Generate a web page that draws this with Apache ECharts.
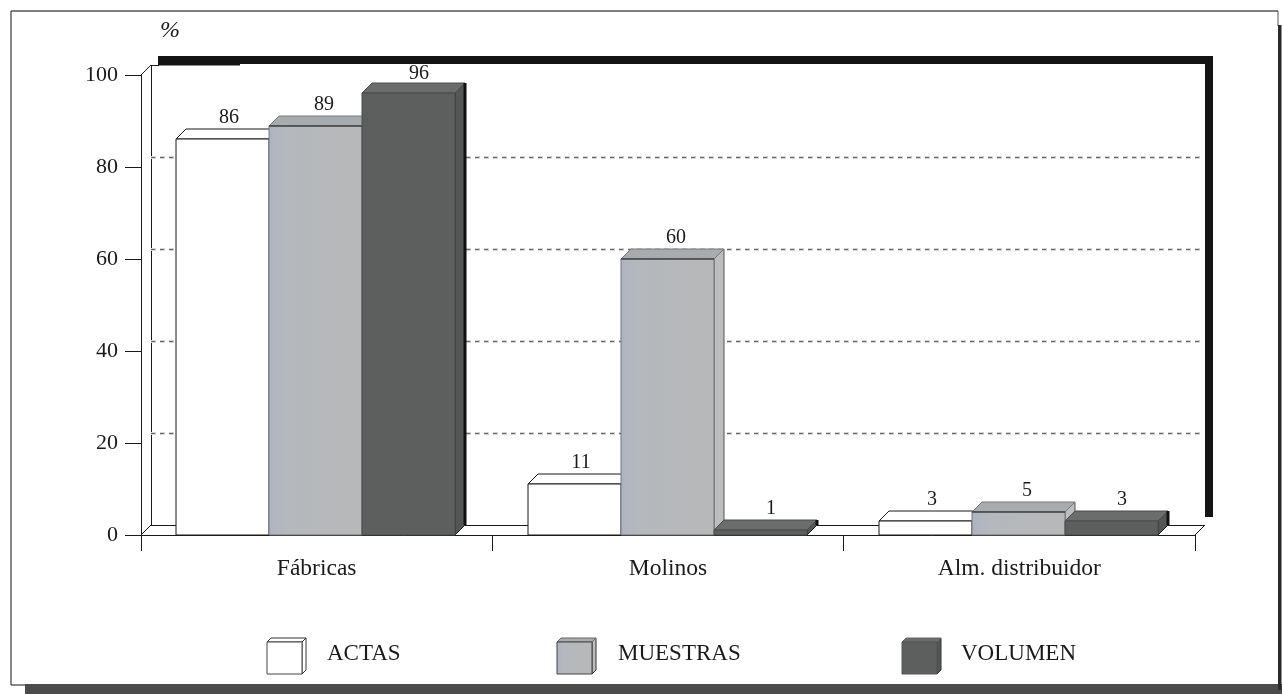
<!DOCTYPE html>
<html><head><meta charset="utf-8">
<style>html,body{margin:0;padding:0;background:#fff}#c{width:1282px;height:694px}</style>
<script src="https://cdn.jsdelivr.net/npm/echarts@6/dist/echarts.min.js"></script>
</head><body><div id="c"></div>
<script>
const categories = ['Fábricas', 'Molinos', 'Alm. distribuidor'];
const actas = [86, 11, 3];
const muestras = [89, 60, 5];
const volumen = [96, 1, 3];
const gridValues = [20, 40, 60, 80];
const seriesNames = ['ACTAS', 'MUESTRAS', 'VOLUMEN'];

const FONT = '"Liberation Serif", "Times New Roman", serif';
const DEPTH = 10;
const INK = '#1a1a1a';
const palette = [
  {face:'#ffffff', top:'#ffffff', side:'#ffffff', edge:INK, sideEdge:'#555', labelDx:53},
  {face:{type:'linear',x:0,y:0,x2:1,y2:0,colorStops:[{offset:0,color:'#aeb4c0'},{offset:.2,color:'#b5b8bc'},{offset:1,color:'#b7b8b9'}]},
   top:'#a9acae', side:'#bcbdbe', edge:'#777', sideEdge:'#555', labelDx:55},
  {face:'#5d5f5f', top:'#6a6d6c', side:'#545656', edge:'#4a4c4c', sideEdge:'#222', labelDx:57}
];

function bar3d(idx) {
  const c = palette[idx];
  return function (params, api) {
    const value = api.value(1);
    const p = api.coord([api.value(0), value]);
    const base = api.coord([api.value(0), 0]);
    const top100 = api.coord([api.value(0), 100]);
    const band = api.size([1, 0])[0];
    const w = Math.round(band * 0.265);
    const x0 = Math.round(p[0] + (idx - 1.5) * w - 1);
    const x1 = x0 + w;
    const yT = Math.round(p[1]), yB = Math.round(base[1]);
    const d = DEPTH;
    const poly = (pts, fill, stroke) => ({type:'polygon', shape:{points:pts}, style:{fill, stroke, lineWidth:1}});
    const children = [
      poly([[x1,yT],[x1+d,yT-d],[x1+d,yB-d],[x1,yB]], c.side, c.sideEdge),
      poly([[x0,yT],[x0+d,yT-d],[x1+d,yT-d],[x1,yT]], c.top, c.edge),
      poly([[x0,yT],[x1,yT],[x1,yB],[x0,yB]], c.face, c.edge)
    ];
    if (idx === 1) children.push({type:'line', shape:{x1:x0,y1:yT,x2:x1,y2:yT}, style:{stroke:'#222',lineWidth:1.2}});
    if (idx === 2) children.push({type:'line', shape:{x1:x1+d,y1:yT-d,x2:x1+d,y2:yB-d}, style:{stroke:'#111',lineWidth:3}});
    children.push({type:'text', x:x0+c.labelDx, y:Math.max(yT-d-11, top100[1]-1), z2:50,
      style:{text:String(value), fill:'#1a1a1a', font:'20px '+FONT, align:'center', verticalAlign:'middle'}});
    return {type:'group', children};
  };
}

function wall(params, api) {
  const d = DEPTH;
  const o = api.coord([0, 0]);
  const right = o[0] + api.size([1, 0])[0] * categories.length;
  const x0 = Math.round(o[0] - api.size([1, 0])[0] / 2);
  const x1 = Math.round(right - api.size([1, 0])[0] / 2);
  const y0 = Math.round(o[1]);
  const yTop = Math.round(api.coord([0, 100])[1]);
  const line = (a,b,c,e,stroke,lw,dash) => ({type:'line', shape:{x1:a,y1:b,x2:c,y2:e}, style:{stroke, lineWidth:lw, lineDash:dash}});
  const rect = (x,y,w,h,fill) => ({type:'rect', shape:{x,y,width:w,height:h}, style:{fill}});
  const kids = [
    line(x0+d+.5,yTop-d,x0+d+.5,y0-d,INK,1),
    line(x0,yTop,x0+d,yTop-d,INK,1),
    line(x0,y0,x0+d,y0-d,INK,1),
    line(x0+d,y0-d+.5,x1+d,y0-d+.5,INK,1),
    line(x1,y0,x1+d,y0-d,INK,1),
    line(x0+d,yTop-d+.5,x0+d+8,yTop-d+.5,INK,1),
    rect(x0+d+7,yTop-d-9,x1+d+8-(x0+d+7),8,'#141414'),
    rect(x0+d+7,yTop-d-9,82,9.5,'#141414'),
    rect(x1+d,yTop-d-9,8,y0-d-8-(yTop-d-9),'#141414')
  ];
  gridValues.forEach(v => {
    const y = Math.round(api.coord([0, v])[1]) - d + .5;
    kids.push(line(x0+d,y,x1+d-5,y,'#d2d2d2',3,[5,4]));
    kids.push(line(x0+d,y,x1+d-5,y,'#6a6a6a',1,[4,5]));
  });
  return {type:'group', children:kids};
}

function swatch(x, y, idx) {
  const c = palette[idx], w = 35, h = 36, d = 4;
  const poly = (pts, fill, stroke) => ({type:'polygon', shape:{points:pts}, style:{fill, stroke, lineWidth:1}});
  return {type:'group', children:[
    poly([[x+w,y+d],[x+w+d,y],[x+w+d,y+h-d],[x+w,y+h]], c.side, '#333'),
    poly([[x,y+d],[x+d,y],[x+w+d,y],[x+w,y+d]], c.top, idx ? '#666' : '#333'),
    poly([[x,y+d],[x+w,y+d],[x+w,y+h],[x,y+h]], c.face, idx===2 ? '#555' : '#444')
  ]};
}
const legendText = (x, t) => ({type:'text', x, y:654, style:{text:t, fill:'#1a1a1a', font:'23px '+FONT, verticalAlign:'middle'}});

const chart = echarts.init(document.getElementById('c'), null, {renderer:'canvas'});
chart.setOption({
  animation:false,
  backgroundColor:'#fff',
  grid:{left:141, right:87, top:75, bottom:159, containLabel:false},
  xAxis:{type:'category', data:categories, boundaryGap:true,
    axisLine:{show:true, lineStyle:{color:INK, width:1}},
    axisTick:{show:true, length:16, alignWithLabel:false, lineStyle:{color:INK, width:1}},
    axisLabel:{color:'#1a1a1a', fontFamily:FONT, fontSize:23.5, margin:22, interval:0},
    splitLine:{show:false}},
  yAxis:{type:'value', min:0, max:100, interval:20,
    axisLine:{show:true, lineStyle:{color:INK, width:1}},
    axisTick:{show:true, length:16, lineStyle:{color:INK, width:1}},
    axisLabel:{color:'#1a1a1a', fontFamily:FONT, fontSize:22, margin:23},
    splitLine:{show:false}},
  series:[
    {type:'custom', name:'wall', silent:true, z:1, clip:false, renderItem:wall, data:[[0,0]], encode:{x:0,y:1}},
    {type:'custom', name:seriesNames[0], z:2, clip:false, renderItem:bar3d(0), encode:{x:0,y:1}, data:actas.map((v,i)=>[i,v])},
    {type:'custom', name:seriesNames[1], z:3, clip:false, renderItem:bar3d(1), encode:{x:0,y:1}, data:muestras.map((v,i)=>[i,v])},
    {type:'custom', name:seriesNames[2], z:4, clip:false, renderItem:bar3d(2), encode:{x:0,y:1}, data:volumen.map((v,i)=>[i,v])}
  ],
  graphic:[
    {type:'line', shape:{x1:11,y1:11,x2:1278,y2:11}, style:{stroke:'#555',lineWidth:1.6}},
    {type:'line', shape:{x1:11,y1:11,x2:11,y2:685}, style:{stroke:'#555',lineWidth:1.4}},
    {type:'line', shape:{x1:11,y1:685,x2:26,y2:685}, style:{stroke:'#555',lineWidth:1.4}},
    {type:'line', shape:{x1:1278,y1:11,x2:1278,y2:26}, style:{stroke:'#555',lineWidth:1}},
    {type:'rect', shape:{x:25,y:684,width:1257,height:10}, style:{fill:'#4b4b4b'}},
    {type:'rect', shape:{x:1278,y:25,width:3.5,height:665}, style:{fill:'#2a2a2a'}},
    {type:'text', x:160, y:31, style:{text:'%', fill:'#1a1a1a', font:'italic 24px '+FONT, verticalAlign:'middle'}},
    swatch(267, 638, 0), legendText(327, seriesNames[0]),
    swatch(557, 638, 1), legendText(618, seriesNames[1]),
    swatch(902, 638, 2), legendText(961, seriesNames[2])
  ]
});
</script></body></html>
